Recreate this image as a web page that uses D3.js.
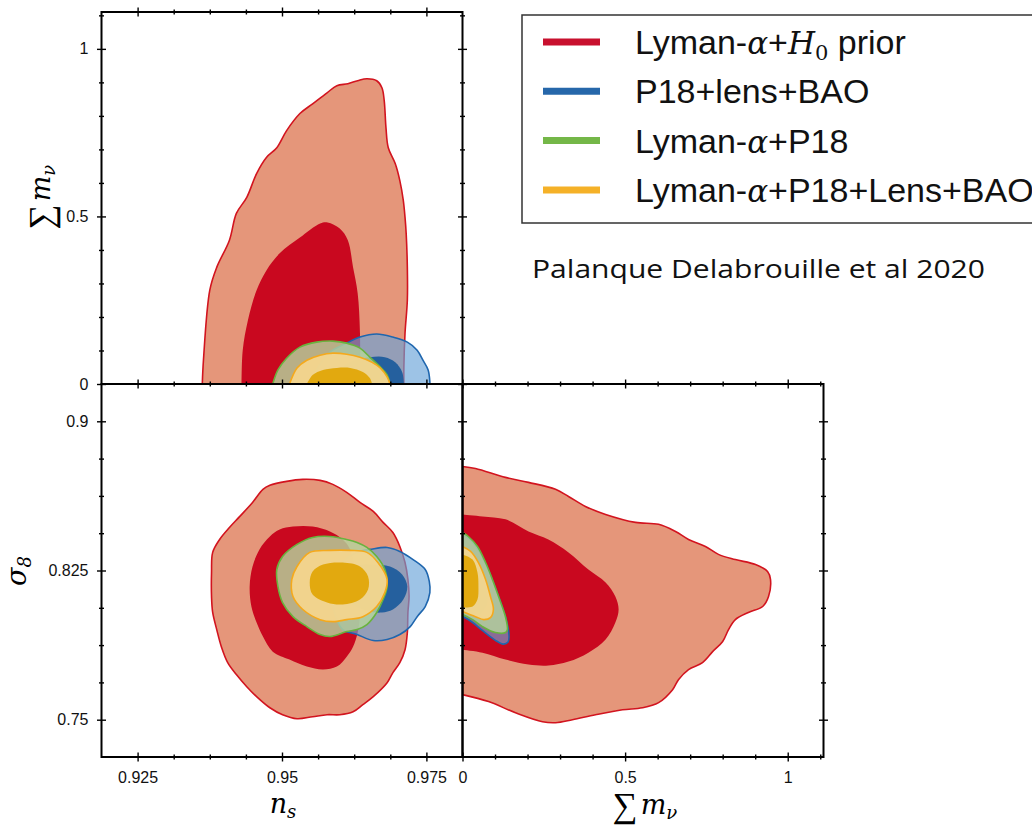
<!DOCTYPE html>
<html>
<head>
<meta charset="utf-8">
<script src="https://cdn.jsdelivr.net/npm/d3@7"></script>
<style>
  html, body { margin: 0; background: #fff; overflow: hidden; }
  svg { display: block; }
</style>
</head>
<body>
<svg id="chart" width="1032" height="825"></svg>
<script>
// ---- contour data ----
// top-left panel: n_s (x) vs sum m_nu (y); contours are cut by the m_nu >= 0 prior
var lyaH0_nsMnu_95 = [[0.9362,0],[0.9364,0.071],[0.9375,0.280],[0.9387,0.348],[0.9409,0.429],[0.9421,0.509],[0.9439,0.557],[0.9456,0.628],[0.9473,0.676],[0.9491,0.705],[0.9508,0.756],[0.9531,0.807],[0.9553,0.836],[0.9578,0.869],[0.9595,0.890],[0.9614,0.896],[0.9631,0.905],[0.9647,0.911],[0.9664,0.905],[0.9673,0.884],[0.9677,0.845],[0.9680,0.765],[0.9684,0.705],[0.9696,0.658],[0.9704,0.607],[0.9710,0.548],[0.9713,0.497],[0.9715,0.449],[0.9717,0.348],[0.9717,0.250],[0.9713,0.152],[0.9711,0.051],[0.9711,0]];
var lyaH0_nsMnu_68 = [[0.9430,0],[0.9432,0.101],[0.9441,0.190],[0.9456,0.280],[0.9473,0.339],[0.9496,0.390],[0.9531,0.437],[0.9566,0.479],[0.9579,0.482],[0.9600,0.464],[0.9614,0.429],[0.9623,0.348],[0.9631,0.271],[0.9635,0.152],[0.9635,0]];
var p18_nsMnu_95 = [[0.9548,0],[0.9562,0.048],[0.9583,0.095],[0.9612,0.122],[0.9635,0.140],[0.9664,0.149],[0.9692,0.140],[0.9717,0.125],[0.9734,0.101],[0.9744,0.071],[0.9753,0.042],[0.9756,0.006],[0.9756,0]];
var p18_nsMnu_68 = [[0.9592,0],[0.9600,0.042],[0.9626,0.071],[0.9652,0.080],[0.9678,0.080],[0.9696,0.065],[0.9708,0.036],[0.9711,0]];
var lyaP18_nsMnu_95 = [[0.9484,0],[0.9493,0.042],[0.9508,0.077],[0.9531,0.110],[0.9560,0.125],[0.9588,0.128],[0.9612,0.122],[0.9635,0.107],[0.9652,0.080],[0.9670,0.051],[0.9682,0.027],[0.9687,0]];
var lyaAll_nsMnu_95 = [[0.9513,0],[0.9526,0.048],[0.9543,0.071],[0.9566,0.086],[0.9588,0.092],[0.9612,0.089],[0.9635,0.080],[0.9656,0.065],[0.9670,0.048],[0.9682,0.021],[0.9687,0]];
var lyaAll_nsMnu_68 = [[0.9543,0],[0.9553,0.027],[0.9571,0.042],[0.9595,0.048],[0.9618,0.048],[0.9640,0.036],[0.9652,0.018],[0.9656,0]];

// bottom-left panel: n_s (x) vs sigma_8 (y); closed contours
var lyaH0_nsS8_95 = [[0.9536,0.8708],[0.9566,0.8703],[0.9588,0.8683],[0.9612,0.8643],[0.9635,0.8592],[0.9658,0.8547],[0.9675,0.8492],[0.9692,0.8441],[0.9704,0.8371],[0.9713,0.8290],[0.9718,0.8205],[0.9720,0.8119],[0.9718,0.8039],[0.9717,0.7938],[0.9713,0.7852],[0.9704,0.7787],[0.9692,0.7737],[0.9682,0.7686],[0.9658,0.7616],[0.9640,0.7576],[0.9623,0.7540],[0.9600,0.7525],[0.9578,0.7525],[0.9553,0.7515],[0.9526,0.7505],[0.9501,0.7525],[0.9479,0.7560],[0.9456,0.7616],[0.9439,0.7666],[0.9421,0.7727],[0.9406,0.7787],[0.9395,0.7867],[0.9387,0.7953],[0.9380,0.8039],[0.9378,0.8119],[0.9378,0.8240],[0.9380,0.8341],[0.9392,0.8406],[0.9409,0.8466],[0.9427,0.8522],[0.9449,0.8592],[0.9467,0.8658],[0.9479,0.8678],[0.9508,0.8698]];
var lyaH0_nsS8_68 = [[0.9519,0.8471],[0.9553,0.8471],[0.9583,0.8446],[0.9605,0.8406],[0.9618,0.8356],[0.9630,0.8205],[0.9635,0.8039],[0.9631,0.7938],[0.9623,0.7867],[0.9612,0.7817],[0.9595,0.7767],[0.9571,0.7752],[0.9543,0.7767],[0.9513,0.7802],[0.9484,0.7842],[0.9467,0.7918],[0.9456,0.7988],[0.9447,0.8069],[0.9444,0.8169],[0.9449,0.8270],[0.9461,0.8356],[0.9479,0.8421],[0.9496,0.8456]];
var p18_nsS8_95 = [[0.9652,0.8356],[0.9682,0.8366],[0.9704,0.8346],[0.9727,0.8305],[0.9748,0.8255],[0.9755,0.8195],[0.9756,0.8139],[0.9748,0.8069],[0.9734,0.8018],[0.9722,0.7968],[0.9704,0.7928],[0.9682,0.7903],[0.9658,0.7898],[0.9630,0.7928],[0.9605,0.7953],[0.9595,0.8003],[0.9588,0.8089],[0.9595,0.8205],[0.9605,0.8290],[0.9623,0.8331],[0.9640,0.8351]];
var p18_nsS8_68 = [[0.9658,0.8280],[0.9687,0.8270],[0.9708,0.8230],[0.9717,0.8169],[0.9710,0.8104],[0.9692,0.8054],[0.9673,0.8039],[0.9652,0.8044],[0.9618,0.8089],[0.9605,0.8169],[0.9618,0.8255],[0.9640,0.8280]];
var lyaP18_nsS8_95 = [[0.9553,0.8416],[0.9583,0.8421],[0.9612,0.8406],[0.9630,0.8391],[0.9647,0.8366],[0.9664,0.8320],[0.9678,0.8255],[0.9682,0.8169],[0.9675,0.8104],[0.9664,0.8039],[0.9647,0.7978],[0.9630,0.7953],[0.9612,0.7943],[0.9583,0.7918],[0.9566,0.7928],[0.9543,0.7968],[0.9519,0.8018],[0.9501,0.8089],[0.9493,0.8169],[0.9491,0.8255],[0.9501,0.8320],[0.9526,0.8381]];
var lyaAll_nsS8_95 = [[0.9548,0.8341],[0.9583,0.8351],[0.9618,0.8351],[0.9647,0.8341],[0.9666,0.8290],[0.9682,0.8205],[0.9678,0.8139],[0.9664,0.8069],[0.9640,0.8018],[0.9612,0.8003],[0.9588,0.7993],[0.9566,0.8003],[0.9536,0.8054],[0.9519,0.8119],[0.9517,0.8205],[0.9526,0.8270]];
var lyaAll_nsS8_68 = [[0.9571,0.8280],[0.9605,0.8290],[0.9635,0.8270],[0.9649,0.8220],[0.9649,0.8154],[0.9635,0.8104],[0.9605,0.8079],[0.9578,0.8089],[0.9553,0.8129],[0.9548,0.8190],[0.9553,0.8245]];

// bottom-right panel: sum m_nu (x) vs sigma_8 (y); cut at m_nu = 0
var lyaH0_mnuS8_95 = [[0,0.8773],[0.040,0.8763],[0.132,0.8718],[0.203,0.8693],[0.286,0.8658],[0.326,0.8622],[0.378,0.8572],[0.440,0.8532],[0.532,0.8492],[0.603,0.8482],[0.655,0.8446],[0.695,0.8406],[0.747,0.8371],[0.787,0.8331],[0.839,0.8305],[0.901,0.8280],[0.938,0.8245],[0.947,0.8205],[0.941,0.8119],[0.923,0.8069],[0.879,0.8039],[0.839,0.8003],[0.818,0.7953],[0.800,0.7893],[0.769,0.7842],[0.738,0.7787],[0.695,0.7752],[0.664,0.7701],[0.646,0.7651],[0.603,0.7586],[0.553,0.7560],[0.492,0.7550],[0.409,0.7525],[0.338,0.7500],[0.286,0.7485],[0.246,0.7490],[0.163,0.7535],[0.080,0.7591],[0,0.7626]];
var lyaH0_mnuS8_68 = [[0,0.8532],[0.0615,0.8522],[0.132,0.8507],[0.203,0.8446],[0.264,0.8406],[0.326,0.8341],[0.387,0.8255],[0.440,0.8190],[0.470,0.8119],[0.480,0.8054],[0.470,0.7988],[0.440,0.7903],[0.387,0.7837],[0.326,0.7792],[0.264,0.7772],[0.203,0.7777],[0.132,0.7802],[0.0615,0.7837],[0,0.7852]];
var p18_mnuS8_95 = [[0,0.8430],[0.020,0.8410],[0.050,0.8350],[0.075,0.8270],[0.095,0.8190],[0.115,0.8100],[0.135,0.8000],[0.143,0.7920],[0.140,0.7890],[0.125,0.7880],[0.100,0.7900],[0.060,0.7950],[0.030,0.7990],[0,0.8020]];
var p18_mnuS8_68 = [[0,0.8360],[0.040,0.8300],[0.070,0.8180],[0.075,0.8080],[0.050,0.8030],[0.020,0.8030],[0,0.8050]];
var lyaP18_mnuS8_95 = [[0,0.8441],[0.018,0.8421],[0.046,0.8371],[0.071,0.8290],[0.092,0.8205],[0.111,0.8119],[0.132,0.8018],[0.138,0.7953],[0.132,0.7938],[0.101,0.7938],[0.0615,0.7968],[0.031,0.8003],[0,0.8029]];
var lyaAll_mnuS8_95 = [[0,0.8371],[0.025,0.8346],[0.049,0.8290],[0.071,0.8205],[0.086,0.8119],[0.095,0.8054],[0.086,0.8013],[0.065,0.8003],[0.040,0.8018],[0,0.8044]];
var lyaAll_mnuS8_68 = [[0,0.8331],[0.031,0.8305],[0.046,0.8240],[0.049,0.8170],[0.046,0.8104],[0.031,0.8069],[0,0.8064]];

// ---- axes: ticks and labels ----
var nsTicks = [0.925, 0.95, 0.975];
var nsTickLabels = ["0.925", "0.95", "0.975"];
var mnuTicks = [0, 0.5, 1];
var mnuTickLabels = ["0", "0.5", "1"];
var s8Ticks = [0.75, 0.825, 0.9];
var s8TickLabels = ["0.75", "0.825", "0.9"];
var nsMinor = [0.93125, 0.9375, 0.94375, 0.95625, 0.9625, 0.96875];
var mnuMinor = [0.1, 0.2, 0.3, 0.4, 0.6, 0.7, 0.8, 0.9, 1.1];
var s8Minor = [0.76875, 0.7875, 0.80625, 0.84375, 0.8625, 0.88125];

// ---- legend ----
var legendColors = ["#c8102e", "#2667aa", "#74b748", "#f5b128"];
// label pieces: [text, kind] where kind "" = sans, "m" = math italic, "sub" = subscript
var legendLabels = [
  [["Lyman-", ""], ["α", "m"], ["+", ""], ["H", "m"], ["0", "sub"], [" prior", ""]],
  [["P18+lens+BAO", ""]],
  [["Lyman-", ""], ["α", "m"], ["+P18", ""]],
  [["Lyman-", ""], ["α", "m"], ["+P18+Lens+BAO", ""]]
];

// ---- layout ----
var svg = d3.select("#chart");
var x0 = 101.5, x1 = 462.5, x2 = 823.5;
var y0 = 12, y1 = 384, y2 = 757;

var xNs = d3.scaleLinear().domain([0.91875, 0.98125]).range([x0, x1]);
var yMnu = d3.scaleLinear().domain([0, 1.11]).range([y1, y0]);
var yS8 = d3.scaleLinear().domain([0.73125, 0.91875]).range([y2, y1]);
var xMnu = d3.scaleLinear().domain([0, 1.11]).range([x1, x2]);

var style = {
  lyaH0:  { f95: "#e5967a", a95: 1,    f68: "#c9081f", a68: 1,    line: "#d2141f" },
  p18:    { f95: "#68a3d9", a95: 0.65, f68: "#1f5d9c", a68: 0.95, line: "#1f66ae" },
  lyaP18: { f95: "#b4d49e", a95: 0.82, f68: null,      a68: 0,    line: "#69b33e" },
  lyaAll: { f95: "#f5d68e", a95: 0.92, f68: "#e0a608", a68: 0.95, line: "#f5a91c" }
};

var panels = [
  { id: "tl", xs: xNs, ys: yMnu, closed: false, box: [x0, y0, x1, y1],
    layers: [["lyaH0", 95, lyaH0_nsMnu_95], ["lyaH0", 68, lyaH0_nsMnu_68],
             ["p18", 95, p18_nsMnu_95], ["p18", 68, p18_nsMnu_68],
             ["lyaP18", 95, lyaP18_nsMnu_95],
             ["lyaAll", 95, lyaAll_nsMnu_95], ["lyaAll", 68, lyaAll_nsMnu_68]] },
  { id: "bl", xs: xNs, ys: yS8, closed: true, box: [x0, y1, x1, y2],
    layers: [["lyaH0", 95, lyaH0_nsS8_95], ["lyaH0", 68, lyaH0_nsS8_68],
             ["p18", 95, p18_nsS8_95], ["p18", 68, p18_nsS8_68],
             ["lyaP18", 95, lyaP18_nsS8_95],
             ["lyaAll", 95, lyaAll_nsS8_95], ["lyaAll", 68, lyaAll_nsS8_68]] },
  { id: "br", xs: xMnu, ys: yS8, closed: false, box: [x1, y1, x2, y2],
    layers: [["lyaH0", 95, lyaH0_mnuS8_95], ["lyaH0", 68, lyaH0_mnuS8_68],
             ["p18", 95, p18_mnuS8_95], ["p18", 68, p18_mnuS8_68],
             ["lyaP18", 95, lyaP18_mnuS8_95],
             ["lyaAll", 95, lyaAll_mnuS8_95], ["lyaAll", 68, lyaAll_mnuS8_68]] }
];

var defs = svg.append("defs");

panels.forEach(function(p) {
  var b = p.box;
  defs.append("clipPath").attr("id", "clip-" + p.id)
    .append("rect").attr("x", b[0]).attr("y", b[1])
    .attr("width", b[2] - b[0]).attr("height", b[3] - b[1]);

  var line = d3.line()
    .x(function(d) { return p.xs(d[0]); })
    .y(function(d) { return p.ys(d[1]); })
    .curve(p.closed ? d3.curveCatmullRomClosed.alpha(0.5) : d3.curveCatmullRom.alpha(0.5));

  var g = svg.append("g").attr("clip-path", "url(#clip-" + p.id + ")");
  p.layers.forEach(function(l) {
    var s = style[l[0]];
    var outer = l[1] === 95;
    g.append("path")
      .attr("d", line(l[2]) + (p.closed ? "" : "Z"))
      .attr("fill", outer ? s.f95 : s.f68)
      .attr("fill-opacity", outer ? s.a95 : s.a68)
      .attr("stroke", outer ? s.line : "none")
      .attr("stroke-width", 1.6)
      .attr("stroke-linejoin", "round");
  });
});

// frames
panels.forEach(function(p) {
  var b = p.box;
  svg.append("rect").attr("x", b[0]).attr("y", b[1])
    .attr("width", b[2] - b[0]).attr("height", b[3] - b[1])
    .attr("fill", "none").attr("stroke", "#000").attr("stroke-width", 2);
});

// tick marks crossing the frame line
function tickEdge(make, scale, values, half, tx, ty) {
  var vertical = (make === d3.axisLeft || make === d3.axisRight);
  var g = svg.append("g").attr("transform", "translate(" + tx + "," + ty + ")")
    .call(make(scale).tickValues(values).tickSize(half).tickFormat(""));
  g.select(".domain").remove();
  g.selectAll(".tick line")
    .attr(vertical ? "x1" : "y1", -half).attr(vertical ? "x2" : "y2", half)
    .attr("stroke", "#000").attr("stroke-width", 1.4);
}
function labelEdge(make, scale, values, labels, pad, tx, ty) {
  var g = svg.append("g").attr("transform", "translate(" + tx + "," + ty + ")")
    .call(make(scale).tickValues(values).tickSize(0).tickPadding(pad)
      .tickFormat(function(d, i) { return labels[i]; }));
  g.select(".domain").remove();
  g.selectAll("text")
    .attr("font-family", "'Liberation Sans', Arial, sans-serif")
    .attr("font-size", 16).attr("fill", "#111");
}
function edge(make, scale, major, minor, tx, ty) {
  tickEdge(make, scale, major, 4.5, tx, ty);
  tickEdge(make, scale, minor, 2.5, tx, ty);
}

// top-left
edge(d3.axisTop, xNs, nsTicks, nsMinor, 0, y0);
edge(d3.axisBottom, xNs, nsTicks, nsMinor, 0, y1);
edge(d3.axisLeft, yMnu, mnuTicks, mnuMinor, x0, 0);
edge(d3.axisRight, yMnu, mnuTicks, mnuMinor, x1, 0);
labelEdge(d3.axisLeft, yMnu, mnuTicks, mnuTickLabels, 13, x0, 0);
// bottom-left
edge(d3.axisBottom, xNs, nsTicks, nsMinor, 0, y2);
edge(d3.axisLeft, yS8, s8Ticks, s8Minor, x0, 0);
edge(d3.axisRight, yS8, s8Ticks, s8Minor, x1, 0);
labelEdge(d3.axisLeft, yS8, s8Ticks, s8TickLabels, 13, x0, 0);
labelEdge(d3.axisBottom, xNs, nsTicks, nsTickLabels, 15, 0, y2);
// bottom-right
edge(d3.axisTop, xMnu, mnuTicks, mnuMinor, 0, y1);
edge(d3.axisBottom, xMnu, mnuTicks, mnuMinor, 0, y2);
edge(d3.axisRight, yS8, s8Ticks, s8Minor, x2, 0);
labelEdge(d3.axisBottom, xMnu, mnuTicks, mnuTickLabels, 15, 0, y2);

// axis titles (math style)
var serif = "'DejaVu Serif', 'Liberation Serif', serif";
function sumMnu(t) {
  t.append("tspan").attr("font-family", "'Liberation Serif', serif").attr("font-style", "normal")
    .attr("font-size", 35).attr("dy", 3).text("∑");
  t.append("tspan").attr("font-size", 27).attr("dx", 3).attr("dy", -3).text("m");
  t.append("tspan").attr("font-size", 18).attr("dy", 5).text("ν");
}
var t1 = svg.append("text").attr("transform", "translate(50,197) rotate(-90)")
  .attr("text-anchor", "middle").attr("font-family", serif).attr("font-style", "italic");
sumMnu(t1);
var t2 = svg.append("text").attr("transform", "translate(26,571) rotate(-90)")
  .attr("text-anchor", "middle").attr("font-family", serif).attr("font-style", "italic");
t2.append("tspan").attr("font-size", 27).text("σ");
t2.append("tspan").attr("font-size", 18).attr("dy", 5).text("8");
var t3 = svg.append("text").attr("x", 283).attr("y", 813)
  .attr("text-anchor", "middle").attr("font-family", serif).attr("font-style", "italic");
t3.append("tspan").attr("font-size", 27).text("n");
t3.append("tspan").attr("font-size", 18).attr("dy", 5).text("s");
var t4 = svg.append("text").attr("x", 645).attr("y", 814)
  .attr("text-anchor", "middle").attr("font-family", serif).attr("font-style", "italic");
sumMnu(t4);

// legend
var lg = svg.append("g");
lg.append("rect").attr("x", 522).attr("y", 15).attr("width", 560).attr("height", 208)
  .attr("fill", "#fff").attr("stroke", "#333").attr("stroke-width", 1.5);
legendLabels.forEach(function(parts, i) {
  var yy = 42 + i * 49.3;
  lg.append("line").attr("x1", 543).attr("x2", 600).attr("y1", yy).attr("y2", yy)
    .attr("stroke", legendColors[i]).attr("stroke-width", 7);
  var t = lg.append("text").attr("x", 635).attr("y", yy + 12)
    .attr("font-family", "'Liberation Sans', Arial, sans-serif").attr("font-size", 34).attr("fill", "#111");
  parts.forEach(function(p, k) {
    var s = t.append("tspan").text(p[0]);
    if (p[1] === "m") s.attr("font-family", serif).attr("font-style", "italic").attr("font-size", 31);
    if (p[1] === "sub") s.attr("font-family", serif).attr("font-size", 21).attr("dy", 6);
    if (k > 0 && parts[k - 1][1] === "sub") s.attr("dy", -6);
  });
});

// attribution
svg.append("text").attr("x", 532).attr("y", 278)
  .attr("font-family", "'Open Sans', sans-serif").attr("font-size", 25).attr("fill", "#111")
  .attr("textLength", 453).attr("lengthAdjust", "spacingAndGlyphs")
  .text("Palanque Delabrouille et al 2020");
</script>
</body>
</html>
